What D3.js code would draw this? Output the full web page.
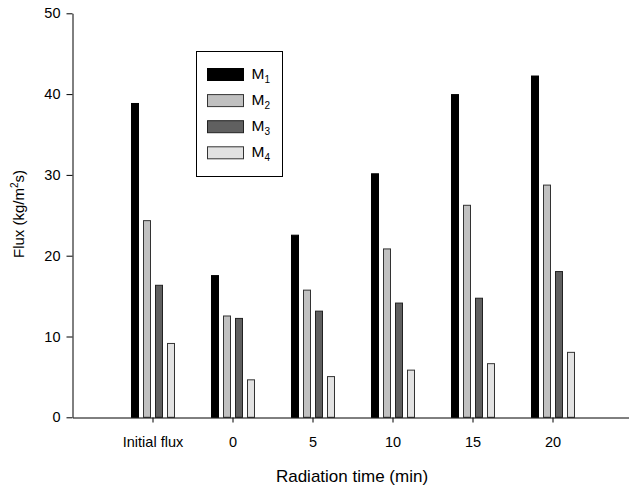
<!DOCTYPE html>
<html>
<head>
<meta charset="utf-8">
<script src="https://cdn.jsdelivr.net/npm/d3@7"></script>
<style>
  html, body { margin: 0; padding: 0; background: #fff; }
  svg { display: block; font-family: "Liberation Sans", Arial, sans-serif; }
</style>
</head>
<body>
<svg id="chart" width="629" height="488"></svg>
<script>
const categories = ["Initial flux", "0", "5", "10", "15", "20"];
const seriesNames = ["M1", "M2", "M3", "M4"];
const m1 = [38.9, 17.6, 22.6, 30.2, 40.0, 42.3];
const m2 = [24.4, 12.6, 15.8, 20.9, 26.3, 28.8];
const m3 = [16.4, 12.3, 13.2, 14.2, 14.8, 18.1];
const m4 = [9.2, 4.7, 5.1, 5.9, 6.7, 8.1];
const yTicks = [0, 10, 20, 30, 40, 50];
const xTitle = "Radiation time (min)";

const series = [m1, m2, m3, m4];
const fills = ["#000000", "#c0c0c0", "#606060", "#e2e2e2"];
const strokes = ["#000000", "#333333", "#222222", "#333333"];

const svg = d3.select("#chart");

const x = d3.scaleLinear().domain([-1, 6]).range([72.5, 632.5]);
const y = d3.scaleLinear().domain([0, 50]).range([417.3, 13.3]);
const inner = d3.scaleBand().domain(seriesNames).range([-24, 24]);
const barW = 8;

// Bars
const g = svg.append("g");
series.forEach((vals, j) => {
  g.selectAll(null)
    .data(vals)
    .enter()
    .append("rect")
    .attr("x", (d, i) => x(i) + 0.5 + inner(seriesNames[j]) + (inner.bandwidth() - barW) / 2 + 0.5)
    .attr("y", d => y(d) + 0.5)
    .attr("width", barW - 1)
    .attr("height", d => y(0) - y(d) - 0.5)
    .attr("fill", fills[j])
    .attr("stroke", strokes[j])
    .attr("stroke-width", 1);
});

// Axes
const yAxis = d3.axisLeft(y).tickValues(yTicks).tickSize(6).tickPadding(6).tickSizeOuter(0);
const yg = svg.append("g").attr("transform", "translate(72.5,0)").call(yAxis);
yg.selectAll("text").attr("font-size", 14.5).attr("fill", "#000").attr("font-family", "Liberation Sans, Arial, sans-serif");
yg.selectAll("line,path").attr("stroke", "#000");

const xAxis = d3.axisBottom(x).tickValues(d3.range(categories.length))
  .tickFormat(i => categories[i]).tickSize(5).tickPadding(14).tickSizeOuter(0);
const xg = svg.append("g").attr("transform", "translate(0,417.5)").call(xAxis);
xg.selectAll("text").attr("font-size", 14.5).attr("fill", "#000").attr("font-family", "Liberation Sans, Arial, sans-serif");
xg.selectAll("line,path").attr("stroke", "#000");

// Axis titles
svg.append("text")
  .attr("x", 352).attr("y", 482)
  .attr("text-anchor", "middle")
  .attr("font-size", 17)
  .attr("fill", "#000")
  .text(xTitle);

const yt = svg.append("text")
  .attr("transform", "translate(23.5,214) rotate(-90)")
  .attr("text-anchor", "middle")
  .attr("font-size", 15)
  .attr("fill", "#000");
yt.append("tspan").text("Flux (kg/m");
yt.append("tspan").attr("font-size", 10).attr("dy", -6).text("2");
yt.append("tspan").attr("dy", 6).text("s)");

// Legend
const lg = svg.append("g");
lg.append("rect").attr("x", 196.5).attr("y", 51.5).attr("width", 86).attr("height", 125)
  .attr("fill", "#fff").attr("stroke", "#000").attr("stroke-width", 1);
seriesNames.forEach((name, j) => {
  const cy = 74.5 + j * 26.1;
  lg.append("rect").attr("x", 207.5).attr("y", cy - 6).attr("width", 36).attr("height", 12)
    .attr("fill", fills[j]).attr("stroke", strokes[j]).attr("stroke-width", 1);
  const t = lg.append("text").attr("x", 251.5).attr("y", cy + 4.5).attr("font-size", 15.5).attr("fill", "#000");
  t.append("tspan").text(name.charAt(0));
  t.append("tspan").attr("font-size", 10).attr("dy", 4).text(name.slice(1));
});
</script>
</body>
</html>
